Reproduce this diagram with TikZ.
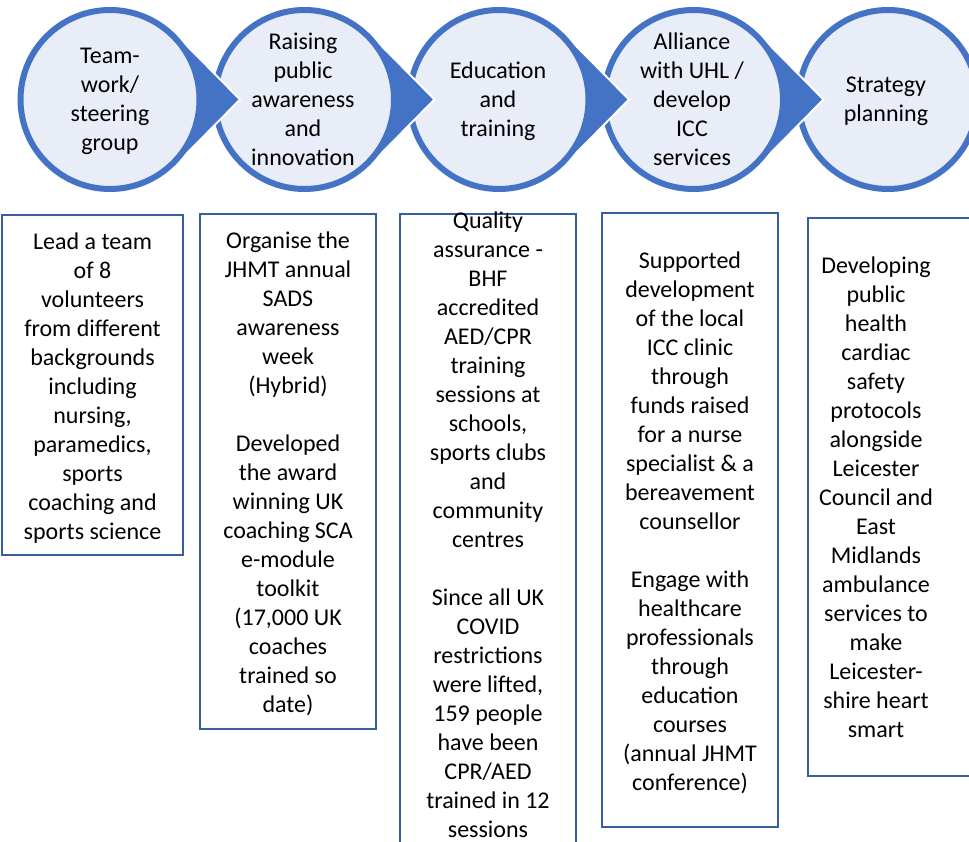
\documentclass[tikz,border=0pt]{standalone}
\usepackage{fontspec}
\setmainfont{Carlito}
\definecolor{cblue}{RGB}{68,114,196}
\definecolor{cfill}{RGB}{233,237,247}
\definecolor{bblue}{RGB}{59,95,158}
\begin{document}
\begin{tikzpicture}[x=1pt,y=-1pt,
  ringnode/.style={circle, draw=cblue, fill=cfill, line width=6pt, minimum size=179pt, inner sep=0pt},
  arrowtip/.style={fill=cblue},
  tipedge/.style={draw=white, line width=2pt},
  txtbase/.style={align=center, font=\fontsize{24}{29}\selectfont, inner sep=0pt, text=black,
    execute at begin node=\strut},
  txt/.style={txtbase, execute at end node=\strut},
  infobox/.style={draw=bblue, line width=2pt, inner sep=0pt}
]
\useasboundingbox (0,0) rectangle (969,842);
\clip (0,0) rectangle (969,842);

% shape 5
\node[ringnode] (s5) at (888,99.5) {};
% shape 4
\fill[arrowtip] (823.5,99.5) -- (759.3,34.5) -- (693.5,99.5) -- (759.3,164.5) -- cycle;
\draw[tipedge] (759.3,34.5) -- (823.5,99.5) -- (759.3,164.5);
\node[ringnode] (s4) at (693.5,99.5) {};
% shape 3
\fill[arrowtip] (629,99.5) -- (564.8,34.5) -- (499,99.5) -- (564.8,164.5) -- cycle;
\draw[tipedge] (564.8,34.5) -- (629,99.5) -- (564.8,164.5);
\node[ringnode] (s3) at (499,99.5) {};
% shape 2
\fill[arrowtip] (434.5,99.5) -- (370.3,34.5) -- (304.5,99.5) -- (370.3,164.5) -- cycle;
\draw[tipedge] (370.3,34.5) -- (434.5,99.5) -- (370.3,164.5);
\node[ringnode] (s2) at (304.5,99.5) {};
% shape 1
\fill[arrowtip] (240,99.5) -- (175.8,34.5) -- (110,99.5) -- (175.8,164.5) -- cycle;
\draw[tipedge] (175.8,34.5) -- (240,99.5) -- (175.8,164.5);
\node[ringnode] (s1) at (110,99.5) {};

% circle texts
\node[txt] (h1) at (110,103.5) {Team-\\work/\\steering\\group};
\node[txt] (h2) at (303,103.5) {Raising\\public\\awareness\\and\\innovation};
\node[txt] (h3) at (498,103.5) {Education\\and\\training};
\node[txt] (h4) at (692,103.5) {Alliance\\with UHL /\\develop\\ICC\\services};
\node[txt] (h5) at (886,104) {Strategy\\planning};

% boxes
\node[infobox, minimum width=181pt, minimum height=340pt] (b1) at (92.5,385) {};
\node[infobox, minimum width=176pt, minimum height=515pt] (b2) at (288,471.5) {};
\node[infobox, minimum width=176pt, minimum height=632pt] (b3) at (488,530) {};
\node[infobox, minimum width=176pt, minimum height=614pt] (b4) at (690,520) {};
\node[infobox, minimum width=182pt, minimum height=558pt] (b5) at (899,497) {};

% box texts
\node[txt] (t1) at (92.5,390.5) {Lead a team\\of 8\\volunteers\\from different\\backgrounds\\including\\nursing,\\paramedics,\\sports\\coaching and\\sports science};
\node[txt] (t2) at (288,476.5) {Organise the\\JHMT annual\\SADS\\awareness\\week\\(Hybrid)\\[29pt]Developed\\the award\\winning UK\\coaching SCA\\e-module\\toolkit\\(17,000 UK\\coaches\\trained so\\date)};
\node[txtbase] (t3) at (488,529) {Quality\\assurance -\\BHF\\accredited\\AED/CPR\\training\\sessions at\\schools,\\sports clubs\\and\\community\\centres\\[29pt]Since all UK\\COVID\\restrictions\\were lifted,\\159 people\\have been\\CPR/AED\\trained in 12\\sessions};
\node[txt] (t4) at (690,526) {Supported\\development\\of the local\\ICC clinic\\through\\funds raised\\for a nurse\\specialist \& a\\bereavement\\counsellor\\[29pt]Engage with\\healthcare\\professionals\\through\\education\\courses\\(annual JHMT\\conference)};
\node[txt] (t5) at (876,502) {Developing\\public\\health\\cardiac\\safety\\protocols\\alongside\\Leicester\\Council and\\East\\Midlands\\ambulance\\services to\\make\\Leicester-\\shire heart\\smart};
\end{tikzpicture}
\end{document}
